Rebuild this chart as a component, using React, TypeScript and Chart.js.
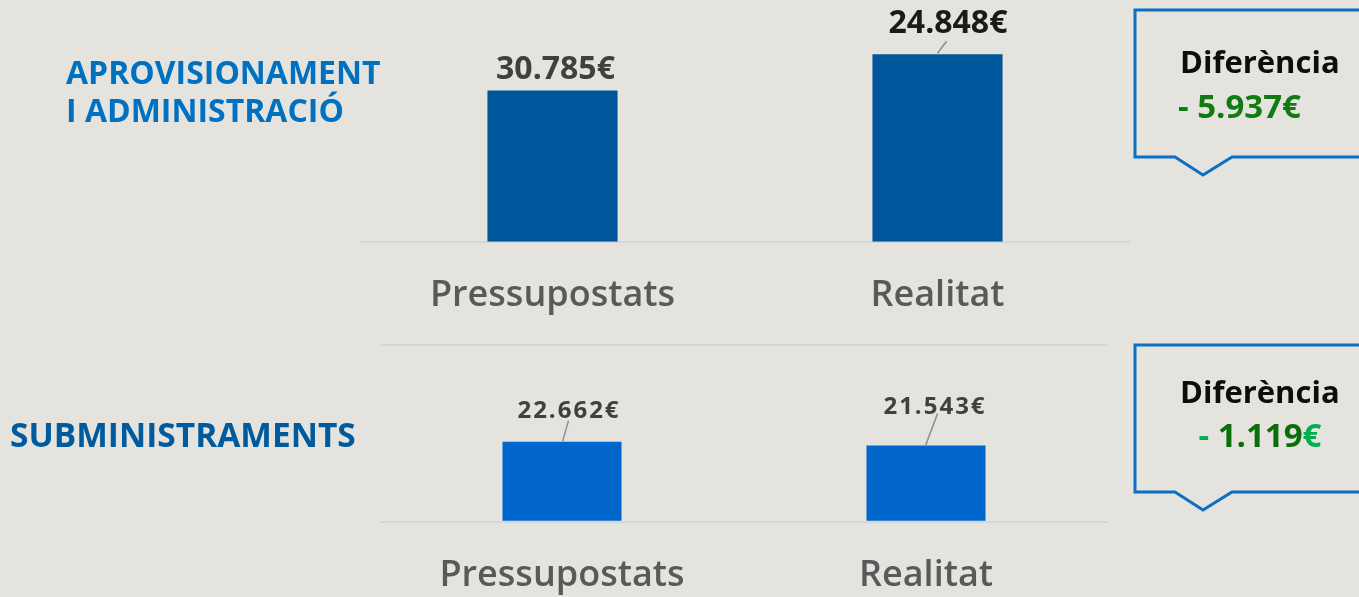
import React, { useEffect, useRef } from "react";
import { Chart, registerables } from "chart.js";

Chart.register(...registerables);

// ---------- data ----------
const categories = ["Pressupostats", "Realitat"];
// Aprovisionament i administració: bar heights as drawn on the slide
const topBarValues = [24848, 30785];
const topValueLabels = ["30.785€", "24.848€"];
// Subministraments
const bottomBarValues = [22662, 21543];
const bottomValueLabels = ["22.662€", "21.543€"];
// section titles and differences
const topTitleLines = ["APROVISIONAMENT", "I ADMINISTRACIÓ"];
const bottomTitle = "SUBMINISTRAMENTS";
const differenceTitle = "Diferència";
const topDifference = "- 5.937€";
const bottomDifferenceSign = "-";
const bottomDifferenceValue = " 1.119";
const bottomDifferenceUnit = "€";

// ---------- styling ----------
const FONT = "'Open Sans', 'DejaVu Sans', sans-serif";
const BG = "#e5e3dd";
const GRID = "#d5d6da";

const valueLabelPlugin = {
  id: "valueLabels",
  afterDatasetsDraw(chart: any, _args: any, opts: any) {
    const ctx = chart.ctx;
    const meta = chart.getDatasetMeta(0);
    meta.data.forEach((bar: any, i: number) => {
      const s = opts.items[i];
      const x = bar.x;
      const y = bar.y;
      ctx.save();
      if (s.leader) {
        ctx.strokeStyle = opts.leaderColor;
        ctx.lineWidth = 1.5;
        ctx.beginPath();
        ctx.moveTo(x + s.leader[0], y + s.leader[1]);
        ctx.lineTo(x + s.leader[2], y + s.leader[3]);
        ctx.stroke();
      }
      ctx.font = opts.font;
      ctx.fillStyle = s.color;
      ctx.textAlign = "center";
      ctx.textBaseline = "alphabetic";
      if ("letterSpacing" in ctx) (ctx as any).letterSpacing = opts.letterSpacing || "0px";
      ctx.fillText(opts.labels[i], x + s.dx, y + s.dy);
      ctx.restore();
    });
  },
};

function topConfig(): any {
  return {
    type: "bar",
    data: {
      labels: categories,
      datasets: [
        {
          data: topBarValues,
          backgroundColor: "#00569a",
          barPercentage: 0.338,
          categoryPercentage: 1,
        },
      ],
    },
    plugins: [valueLabelPlugin],
    options: {
      animation: false,
      responsive: false,
      layout: { padding: 0 },
      plugins: {
        legend: { display: false },
        tooltip: { enabled: false },
        valueLabels: {
          labels: topValueLabels,
          font: `700 32px ${FONT}`,
          leaderColor: "#8f8f8f",
          items: [
            { dx: 3, dy: -11.5, color: "#404040" },
            { dx: 10.5, dy: -21, color: "#1a1a1a", leader: [9, -13, 0, -1] },
          ],
        },
      },
      scales: {
        x: {
          grid: { display: false, drawTicks: false },
          border: { display: true, color: GRID, width: 2 },
          ticks: {
            color: "#595959",
            font: { family: FONT, size: 36, weight: "600" },
            padding: 32,
          },
        },
        y: { display: false, min: 0, max: 39700 },
      },
    },
  };
}

function bottomConfig(): any {
  return {
    type: "bar",
    data: {
      labels: categories,
      datasets: [
        {
          data: bottomBarValues,
          backgroundColor: "#0066cc",
          barPercentage: 0.327,
          categoryPercentage: 1,
        },
      ],
    },
    plugins: [valueLabelPlugin],
    options: {
      animation: false,
      responsive: false,
      layout: { padding: { top: 2 } },
      plugins: {
        legend: { display: false },
        tooltip: { enabled: false },
        valueLabels: {
          labels: bottomValueLabels,
          font: `700 24px ${FONT}`,
          letterSpacing: "2px",
          leaderColor: "#8f8f8f",
          items: [
            { dx: 7, dy: -23.5, color: "#404040", leader: [6.5, -21, 0.5, 0] },
            { dx: 9, dy: -32, color: "#404040", leader: [11.5, -32, -0.5, 0] },
          ],
        },
      },
      scales: {
        x: {
          grid: { display: false, drawTicks: false },
          border: { display: false },
          ticks: {
            color: "#595959",
            font: { family: FONT, size: 36, weight: "600" },
            padding: 32,
          },
        },
        y: {
          min: 0,
          max: 50000,
          ticks: { display: false, stepSize: 50000 },
          grid: { color: GRID, lineWidth: 2, drawTicks: false },
          border: { display: false },
          afterFit: (s: any) => {
            s.width = 0;
          },
        },
      },
    },
  };
}

function ChartCanvas({ make, left, top, width, height }: any) {
  const ref = useRef<HTMLCanvasElement | null>(null);
  useEffect(() => {
    const chart = new Chart(ref.current as HTMLCanvasElement, make());
    return () => chart.destroy();
  }, []);
  return (
    <canvas
      ref={ref}
      width={width}
      height={height}
      style={{ position: "absolute", left, top, width, height }}
    />
  );
}

function Callout({ top, bottom, tip }: any) {
  const d = `M 1135 ${top} H 1370 V ${bottom} H 1232 L 1203 ${tip} L 1175 ${bottom} H 1135 Z`;
  return <path d={d} fill="none" stroke="#0b70c4" strokeWidth={3} strokeLinejoin="miter" />;
}

export default function App() {
  return (
    <div
      style={{
        position: "fixed",
        left: 0,
        top: 0,
        width: 1359,
        height: 597,
        overflow: "hidden",
        background: BG,
      }}
    >
      <ChartCanvas make={topConfig} left={360} top={0} width={770} height={349} />
      <ChartCanvas make={bottomConfig} left={380} top={343} width={728} height={286} />
      <svg
        width={1359}
        height={597}
        style={{ position: "absolute", left: 0, top: 0, pointerEvents: "none" }}
        fontFamily={FONT}
      >
        <text x={66} y={84} fontSize={32} fontWeight={700} fill="#0070c0">
          {topTitleLines[0]}
        </text>
        <text x={66} y={122} fontSize={32} fontWeight={700} fill="#0070c0">
          {topTitleLines[1]}
        </text>
        <text x={10} y={447} fontSize={33.5} fontWeight={700} fill="#005a9e">
          {bottomTitle}
        </text>

        <Callout top={10} bottom={157} tip={175} />
        <text x={1180} y={73} fontSize={31} fontWeight={700} fill="#0d0d0d">
          {differenceTitle}
        </text>
        <text x={1178} y={118} fontSize={33} fontWeight={700} fill="#117a11">
          {topDifference}
        </text>

        <Callout top={345} bottom={492} tip={510} />
        <text x={1180} y={403} fontSize={31} fontWeight={700} fill="#0d0d0d">
          {differenceTitle}
        </text>
        <text x={1260} y={447} fontSize={33} fontWeight={700} textAnchor="middle">
          <tspan fill="#00b050">{bottomDifferenceSign}</tspan>
          <tspan fill="#0a6e0a">{bottomDifferenceValue}</tspan>
          <tspan fill="#00b050">{bottomDifferenceUnit}</tspan>
        </text>
      </svg>
    </div>
  );
}
